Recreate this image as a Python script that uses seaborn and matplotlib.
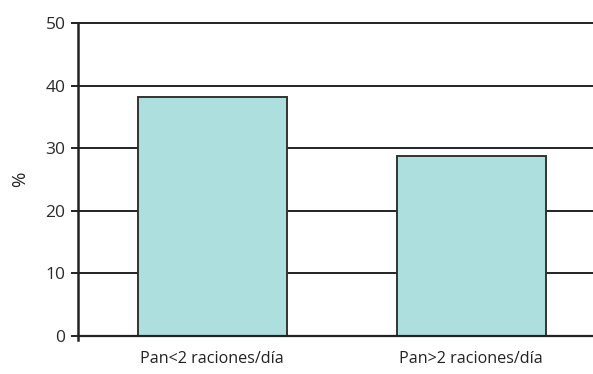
import matplotlib
matplotlib.use("Agg")
import matplotlib.pyplot as plt
import seaborn as sns
import pandas as pd

categorias = ["Pan<2 raciones/día", "Pan>2 raciones/día"]
porcentajes = [38.2, 28.8]
ticks_y = [0, 10, 20, 30, 40, 50]

df = pd.DataFrame({"categoria": categorias, "porcentaje": porcentajes})

sns.set_theme(style="white")
plt.rcParams["font.family"] = ["Open Sans", "DejaVu Sans"]

fig = plt.figure(figsize=(5.93, 3.74), dpi=100)
ax = fig.add_axes([78 / 593, 1 - 336 / 374, (593 - 78) / 593, (336 - 23) / 374])

ax.set_axisbelow(True)
for t in ticks_y[1:]:
    ax.axhline(t, color="#222222", lw=1.4, zorder=0, clip_on=False)

sns.barplot(data=df, x="categoria", y="porcentaje", ax=ax, color="#aedfdf",
            saturation=1, width=0.574, edgecolor="#333333", linewidth=1.4, zorder=2)

ax.set_ylim(0, 50)
ax.set_xlim(-0.518, 1.47)
ax.set_yticks(ticks_y)
ax.set_yticklabels([str(t) for t in ticks_y], fontsize=12.5, color="#2a2a2a")
ax.tick_params(axis="y", which="both", left=True, length=5, width=1.4, color="#222222", pad=4)
ax.tick_params(axis="x", length=0, labelsize=11.6, labelcolor="#222222", pad=11)
ax.set_xlabel("")
ax.set_ylabel("%", fontsize=13.5, color="#222222", labelpad=12)

for s in ["top", "right"]:
    ax.spines[s].set_visible(False)
ax.spines["left"].set_color("#222222")
ax.spines["left"].set_linewidth(1.8)
ax.spines["bottom"].set_color("#222222")
ax.spines["bottom"].set_linewidth(1.6)
ax.spines["left"].set_bounds(-0.6, 50)
ax.spines["left"].set_clip_on(False)

fig.savefig("out.png", dpi=100, facecolor="white")
